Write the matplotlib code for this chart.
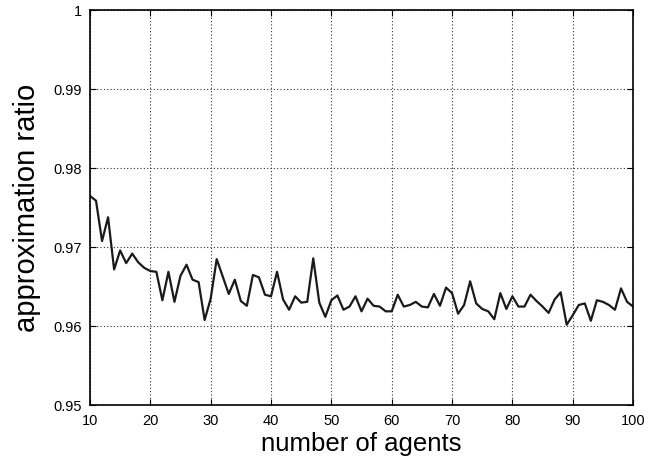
import matplotlib
matplotlib.use("Agg")
import matplotlib.pyplot as plt

plt.rcParams['font.family'] = ['Liberation Sans', 'DejaVu Sans']

# number of agents 10..100
agents = list(range(10, 101))
ratio = [
    0.9765, 0.9759, 0.9708, 0.9738, 0.9672, 0.9696, 0.9680, 0.9692, 0.9681, 0.9674,  # 10-19
    0.9670, 0.9669, 0.9633, 0.9669, 0.9631, 0.9664, 0.9678, 0.9659, 0.9656, 0.9608,  # 20-29
    0.9635, 0.9685, 0.9663, 0.9641, 0.9659, 0.9632, 0.9626, 0.9665, 0.9662, 0.9640,  # 30-39
    0.9638, 0.9669, 0.9634, 0.9621, 0.9638, 0.9630, 0.9631, 0.9686, 0.9630, 0.9612,  # 40-49
    0.9633, 0.9639, 0.9621, 0.9625, 0.9638, 0.9619, 0.9635, 0.9626, 0.9625, 0.9619,  # 50-59
    0.9619, 0.9640, 0.9625, 0.9627, 0.9631, 0.9625, 0.9624, 0.9641, 0.9626, 0.9649,  # 60-69
    0.9642, 0.9616, 0.9627, 0.9657, 0.9629, 0.9622, 0.9619, 0.9609, 0.9642, 0.9622,  # 70-79
    0.9638, 0.9625, 0.9625, 0.9640, 0.9632, 0.9625, 0.9617, 0.9634, 0.9643, 0.9602,  # 80-89
    0.9614, 0.9627, 0.9629, 0.9607, 0.9633, 0.9631, 0.9627, 0.9621, 0.9648, 0.9631,  # 90-99
    0.9625,                                                                          # 100
]

xticks = list(range(10, 101, 10))
yticks = [0.95, 0.96, 0.97, 0.98, 0.99, 1.0]
ytick_labels = ["0.95", "0.96", "0.97", "0.98", "0.99", "1"]

fig = plt.figure(figsize=(6.65, 4.58), dpi=100)
ax = fig.add_axes([0.1353, 0.115, 0.8167, 0.8625])

ax.plot(agents, ratio, color='#1a1a1a', lw=1.6)

ax.set_xlim(10, 100)
ax.set_ylim(0.95, 1.0)
ax.set_xticks(xticks)
ax.set_yticks(yticks)
ax.set_yticklabels(ytick_labels)

ax.grid(True, color='#333333', linestyle=(0, (1, 2)), linewidth=0.8)
ax.tick_params(direction='in', length=4, width=0.8, top=True, right=True,
               labelsize=10.5, pad=6)
for s in ax.spines.values():
    s.set_linewidth(1.2)

ax.set_xlabel("number of agents", fontsize=18.5, labelpad=3)
ax.set_ylabel("approximation ratio", fontsize=21, labelpad=9)

fig.savefig("out.png", dpi=100)
